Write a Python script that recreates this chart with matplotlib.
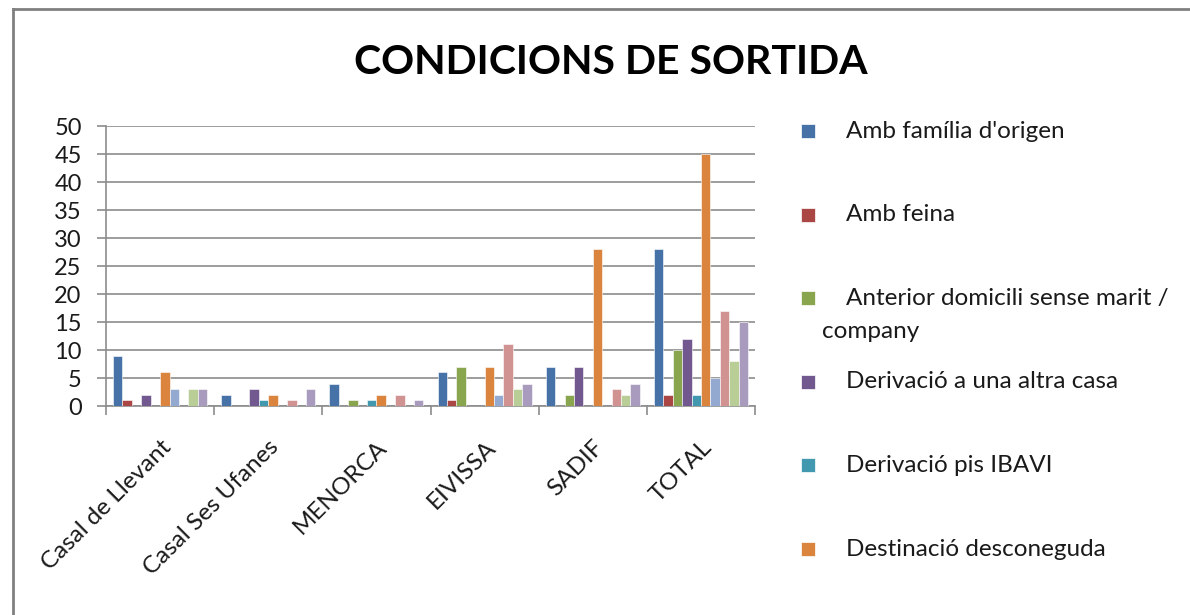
import matplotlib
matplotlib.use("Agg")
import matplotlib.pyplot as plt
import numpy as np
from matplotlib.lines import Line2D
from matplotlib.patches import Rectangle

plt.rcParams["font.family"] = ["Lato", "DejaVu Sans"]

categories = ["Casal de Llevant", "Casal Ses Ufanes", "MENORCA", "EIVISSA", "SADIF", "TOTAL"]

familia_origen = [9, 2, 4, 6, 7, 28]
amb_feina = [1, 0, 0, 1, 0, 2]
anterior_domicili = [0, 0, 1, 7, 2, 10]
altra_casa = [2, 3, 0, 0, 7, 12]
pis_ibavi = [0, 1, 1, 0, 0, 2]
desconeguda = [6, 2, 2, 7, 28, 45]
serie_7 = [3, 0, 0, 2, 0, 5]
serie_8 = [0, 1, 2, 11, 3, 17]
serie_9 = [3, 0, 0, 3, 2, 8]
serie_10 = [3, 3, 1, 4, 4, 15]

series = [familia_origen, amb_feina, anterior_domicili, altra_casa, pis_ibavi,
          desconeguda, serie_7, serie_8, serie_9, serie_10]
legend_labels = ["Amb família d'origen", "Amb feina",
                 "Anterior domicili sense marit /\ncompany",
                 "Derivació a una altra casa", "Derivació pis IBAVI",
                 "Destinació desconeguda"]
colors = ["#4672A8", "#AA4643", "#89A54E", "#71588F", "#4198AF", "#DB843D",
          "#93A9CF", "#D19392", "#B9CD96", "#A99BBD"]

GRID = "#8C8C8C"
TXT = "#1A1A1A"

fig = plt.figure(figsize=(11.9, 6.15), dpi=100)
fig.patch.set_facecolor("white")
ax = fig.add_axes([0.0891, 0.3398, 0.5454, 0.4553])

x = np.arange(len(categories))
n = len(series)
w = 1 / (n + 1.5)
for i, (vals, c) in enumerate(zip(series, colors)):
    ax.bar(x + (i - (n - 1) / 2) * w, vals, w, color=c, edgecolor="white",
           linewidth=0.4, zorder=3)

ax.set_xlim(-0.5, len(categories) - 0.5)
ax.set_ylim(0, 50)
ax.set_yticks(range(0, 51, 5))
ax.grid(axis="y", color=GRID, linewidth=1.2, zorder=0)
ax.set_axisbelow(True)

for s in ["top", "right"]:
    ax.spines[s].set_visible(False)
for s in ["left", "bottom"]:
    ax.spines[s].set_color(GRID)
    ax.spines[s].set_linewidth(1.2)

ax.tick_params(axis="y", length=6.5, width=1.2, color=GRID, pad=11,
               labelsize=17, labelcolor=TXT)
ax.set_xticks(x)
ax.set_xticklabels(categories, rotation=45, ha="right", va="top",
                   rotation_mode="anchor", fontsize=17.5, color=TXT)
ax.tick_params(axis="x", which="major", length=0, pad=22)
ax.set_xticks(np.arange(-0.5, len(categories), 1), minor=True)
ax.tick_params(axis="x", which="minor", length=6.5, width=1.2, color=GRID)

fig.text(0.513, 0.898, "CONDICIONS DE SORTIDA", ha="center", va="center",
         fontsize=29.5, fontweight="bold", color="black")

# legend (only the first entries are visible in the original crop)
y0 = 1 - 131 / 615
step = 83.6 / 615
for i, lbl in enumerate(legend_labels):
    y = y0 - i * step
    fig.patches.append(Rectangle((801 / 1190, y - 7 / 615), 14 / 1190, 14 / 615,
                                 transform=fig.transFigure, facecolor=colors[i],
                                 edgecolor="white", linewidth=0.5))
    lines = lbl.split("\n")
    fig.text(846 / 1190, y, lines[0], ha="left", va="center", fontsize=17.5,
             color=TXT)
    if len(lines) > 1:
        fig.text(822 / 1190, y - 33 / 615, lines[1], ha="left", va="center",
                 fontsize=17.5, color=TXT)

# outer chart border (cropped)
fig.add_artist(Line2D([13 / 1190, 13 / 1190], [0, 1 - 9 / 615],
                      transform=fig.transFigure, color="#808080", linewidth=2))
fig.add_artist(Line2D([13 / 1190, 1], [1 - 9 / 615, 1 - 9 / 615],
                      transform=fig.transFigure, color="#808080", linewidth=2))

fig.savefig("out.png", dpi=100, facecolor="white")
